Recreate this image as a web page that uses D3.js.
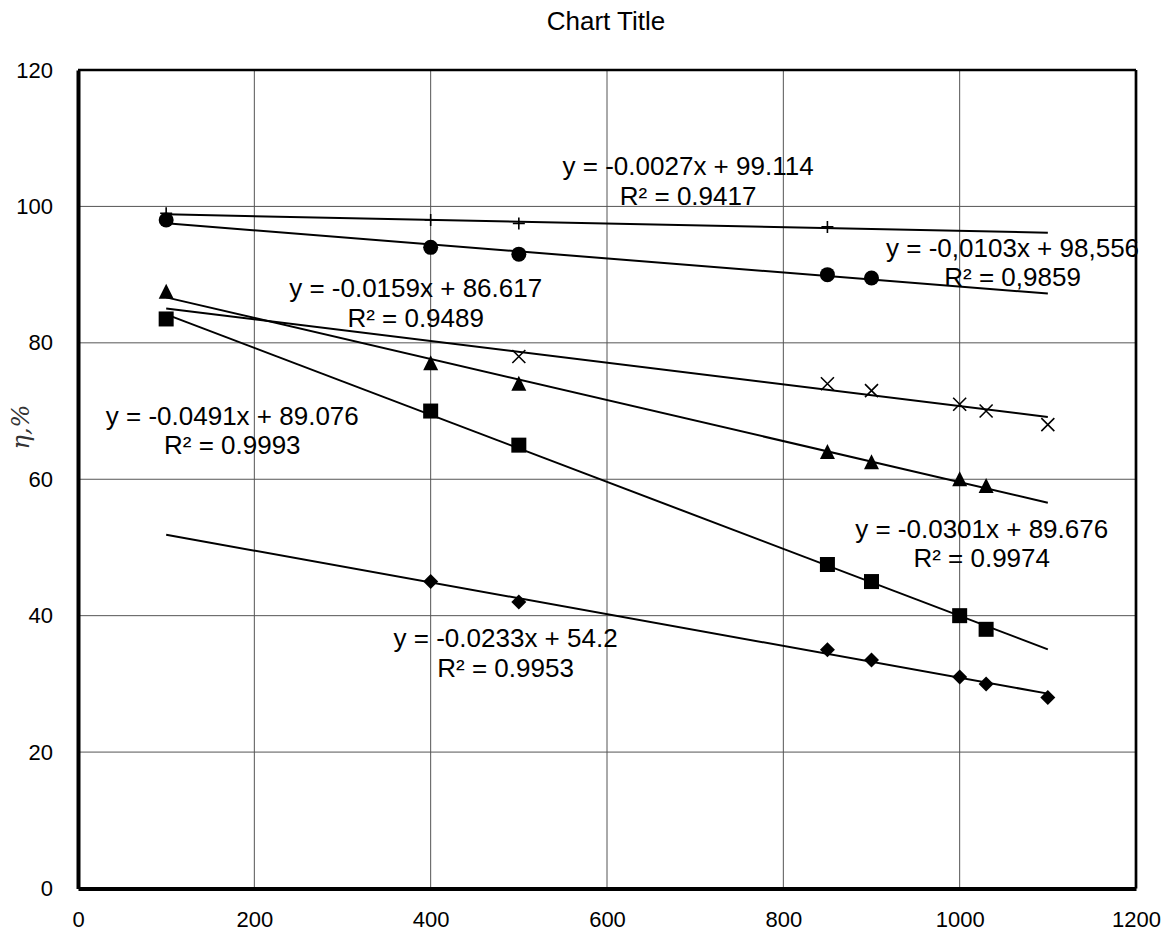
<!DOCTYPE html>
<html>
<head>
<meta charset="utf-8">
<script src="https://cdn.jsdelivr.net/npm/d3@7"></script>
<style>
  html, body { margin: 0; padding: 0; background: #fff; }
  svg { display: block; font-family: "Liberation Sans", Arial, sans-serif; }
</style>
</head>
<body>
<svg id="chart" width="1174" height="936"></svg>
<script>
// Efficiency η (%) against load for six measured series, each with a linear trend.
const xTicks = [0, 200, 400, 600, 800, 1000, 1200];
const yTicks = [0, 20, 40, 60, 80, 100, 120];

const plusX = [100, 400, 500, 850];
const plusY = [99, 98, 97.5, 97];
const circleX = [100, 400, 500, 850, 900];
const circleY = [98, 94, 93, 90, 89.5];
const triangleX = [100, 400, 500, 850, 900, 1000, 1030];
const triangleY = [87.5, 77, 74, 64, 62.5, 60, 59];
const crossX = [500, 850, 900, 1000, 1030, 1100];
const crossY = [78, 74, 73, 71, 70, 68];
const squareX = [100, 400, 500, 850, 900, 1000, 1030];
const squareY = [83.5, 70, 65, 47.5, 45, 40, 38];
const diamondX = [400, 500, 850, 900, 1000, 1030, 1100];
const diamondY = [45, 42, 35, 33.5, 31, 30, 28];

// Trend coefficients: slope, intercept, and drawn x-range
const trendSlope = [-0.0027, -0.0103, -0.0301, -0.0159, -0.0491, -0.0233];
const trendIntercept = [99.114, 98.556, 89.676, 86.617, 89.076, 54.2];
const trendFrom = [100, 100, 100, 100, 100, 100];
const trendTo = [1100, 1100, 1100, 1100, 1100, 1100];
const eqLabels = [
  ["y = -0.0027x + 99.114", "R² = 0.9417"],
  ["y = -0,0103x + 98,556", "R² = 0,9859"],
  ["y = -0.0301x + 89.676", "R² = 0.9974"],
  ["y = -0.0159x + 86.617", "R² = 0.9489"],
  ["y = -0.0491x + 89.076", "R² = 0.9993"],
  ["y = -0.0233x + 54.2", "R² = 0.9953"]
];
// Label anchor points (first-line baseline centre) in data coordinates
const eqLabelX = [692, 1060, 1025, 383, 175, 485];
const eqLabelY = [104.6, 92.6, 51.4, 86.7, 68.0, 35.4];

const svg = d3.select("#chart");
const margin = { left: 78, top: 70, right: 1136, bottom: 888.5 };

const x = d3.scaleLinear().domain([0, 1200]).range([margin.left, margin.right]);
const y = d3.scaleLinear().domain([0, 120]).range([margin.bottom, margin.top]);

// Title
svg.append("text")
  .attr("x", 606).attr("y", 30)
  .attr("text-anchor", "middle")
  .attr("font-size", 26)
  .text("Chart Title");

// Gridlines
const grid = svg.append("g");
grid.selectAll("line.gx").data(xTicks.slice(1, -1)).join("line")
  .attr("x1", d => x(d)).attr("x2", d => x(d))
  .attr("y1", y(0)).attr("y2", y(120))
  .attr("stroke", "#555").attr("stroke-width", 1);
grid.selectAll("line.gy").data(yTicks.slice(1, -1)).join("line")
  .attr("y1", d => y(d)).attr("y2", d => y(d))
  .attr("x1", x(0)).attr("x2", x(1200))
  .attr("stroke", "#555").attr("stroke-width", 1);

// Frame: thin top/right, heavy left/bottom
svg.append("line").attr("x1", x(0)).attr("x2", x(1200)).attr("y1", y(120)).attr("y2", y(120))
  .attr("stroke", "#000").attr("stroke-width", 2.7);
svg.append("line").attr("x1", x(1200)).attr("x2", x(1200)).attr("y1", y(120)).attr("y2", y(0))
  .attr("stroke", "#000").attr("stroke-width", 2.7);

// Axes
const xAxis = svg.append("g").attr("transform", `translate(0,${y(0)})`)
  .call(d3.axisBottom(x).tickValues(xTicks).tickSize(0).tickPadding(23).tickFormat(d3.format("d")));
const yAxis = svg.append("g").attr("transform", `translate(${x(0)},0)`)
  .call(d3.axisLeft(y).tickValues(yTicks).tickSize(0).tickPadding(25).tickFormat(d3.format("d")));
[xAxis, yAxis].forEach(a => {
  a.select(".domain").attr("stroke", "#000").attr("stroke-width", 4);
  a.selectAll("text").attr("font-size", 22).attr("font-family", "Liberation Sans, Arial, sans-serif").attr("fill", "#000");
});

// Y axis title
svg.append("text")
  .attr("transform", `translate(29,427) rotate(-90)`)
  .attr("text-anchor", "middle")
  .attr("font-size", 24)
  .attr("font-family", "DejaVu Serif, serif")
  .attr("font-style", "italic")
  .attr("fill", "#333")
  .text("η,%");

// Trend lines
const trends = svg.append("g");
trendSlope.forEach((m, i) => {
  const xs = [trendFrom[i], trendTo[i]];
  trends.append("line")
    .attr("x1", x(xs[0])).attr("y1", y(m * xs[0] + trendIntercept[i]))
    .attr("x2", x(xs[1])).attr("y2", y(m * xs[1] + trendIntercept[i]))
    .attr("stroke", "#000").attr("stroke-width", 2);
});

// Markers
const marks = svg.append("g");
function pts(xs, ys) { return xs.map((v, i) => [v, ys[i]]); }

marks.selectAll("path.plus").data(pts(plusX, plusY)).join("path")
  .attr("d", d => { const cx = x(d[0]), cy = y(d[1]), s = 6;
    return `M${cx - s},${cy}H${cx + s}M${cx},${cy - s}V${cy + s}`; })
  .attr("stroke", "#000").attr("stroke-width", 1.6).attr("fill", "none");

marks.selectAll("circle").data(pts(circleX, circleY)).join("circle")
  .attr("cx", d => x(d[0])).attr("cy", d => y(d[1])).attr("r", 7.5).attr("fill", "#000");

marks.selectAll("path.tri").data(pts(triangleX, triangleY)).join("path")
  .attr("d", d => { const cx = x(d[0]), cy = y(d[1]);
    return `M${cx},${cy - 8}L${cx + 7.5},${cy + 7}L${cx - 7.5},${cy + 7}Z`; })
  .attr("fill", "#000");

marks.selectAll("path.cross").data(pts(crossX, crossY)).join("path")
  .attr("d", d => { const cx = x(d[0]), cy = y(d[1]), s = 6.5;
    return `M${cx - s},${cy - s}L${cx + s},${cy + s}M${cx - s},${cy + s}L${cx + s},${cy - s}`; })
  .attr("stroke", "#000").attr("stroke-width", 1.6).attr("fill", "none");

marks.selectAll("rect").data(pts(squareX, squareY)).join("rect")
  .attr("x", d => x(d[0]) - 7.5).attr("y", d => y(d[1]) - 7.5)
  .attr("width", 15).attr("height", 15).attr("fill", "#000");

marks.selectAll("path.dia").data(pts(diamondX, diamondY)).join("path")
  .attr("d", d => { const cx = x(d[0]), cy = y(d[1]), s = 7.5;
    return `M${cx},${cy - s}L${cx + s},${cy}L${cx},${cy + s}L${cx - s},${cy}Z`; })
  .attr("fill", "#000");

// Equation labels
const labels = svg.append("g").attr("font-size", 26).attr("fill", "#000");
eqLabels.forEach((lines, i) => {
  const t = labels.append("text")
    .attr("x", x(eqLabelX[i])).attr("y", y(eqLabelY[i]))
    .attr("text-anchor", "middle");
  t.append("tspan").attr("x", x(eqLabelX[i])).attr("dy", 0).text(lines[0]);
  t.append("tspan").attr("x", x(eqLabelX[i])).attr("dy", 29.5).text(lines[1]);
});
</script>
</body>
</html>
